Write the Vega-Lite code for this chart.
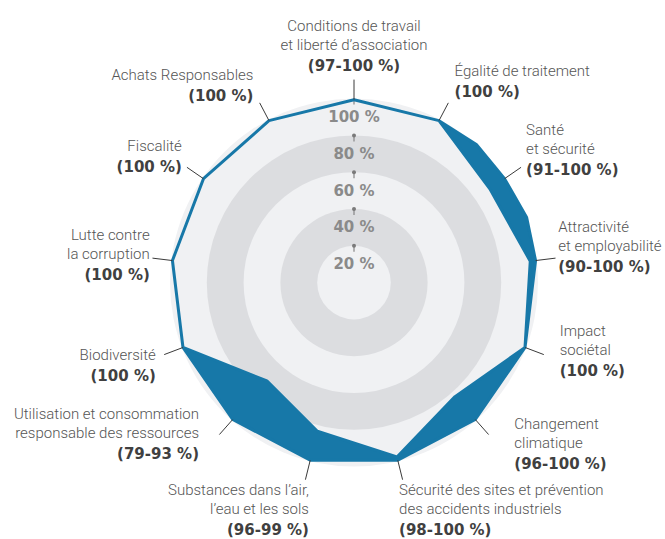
{
  "$schema": "https://vega.github.io/schema/vega-lite/v6.json",
  "width": 400,
  "height": 400,
  "autosize": {"type": "none"},
  "padding": {"left": 154, "top": 82.6, "right": 111, "bottom": 56.4},
  "background": "white",
  "config": {"view": {"stroke": null}},
  "datasets": {
    "rings": [
      {"r": 100, "band": "light"},
      {"r": 80, "band": "gray"},
      {"r": 60, "band": "light"},
      {"r": 40, "band": "gray"},
      {"r": 20, "band": "light"}
    ],
    "band": [
      {"seq": 0, "a": 0, "v": 99.4},
      {"seq": 1, "a": 1, "v": 99.4},
      {"seq": 2, "a": 1.5, "v": 100.3},
      {"seq": 3, "a": 2, "v": 99.4},
      {"seq": 4, "a": 2.5, "v": 100.3},
      {"seq": 5, "a": 3, "v": 99.4},
      {"seq": 6, "a": 4, "v": 99.4},
      {"seq": 7, "a": 5, "v": 99.4},
      {"seq": 8, "a": 6, "v": 99.4},
      {"seq": 9, "a": 7, "v": 99.4},
      {"seq": 10, "a": 8, "v": 99.4},
      {"seq": 11, "a": 9, "v": 99.4},
      {"seq": 12, "a": 10, "v": 99.4},
      {"seq": 13, "a": 11, "v": 99.4},
      {"seq": 14, "a": 12, "v": 99.4},
      {"seq": 15, "a": 13, "v": 99.4},
      {"seq": 16, "a": 13, "v": 99.4},
      {"seq": 17, "a": 12, "v": 99.4},
      {"seq": 18, "a": 11, "v": 99.4},
      {"seq": 19, "a": 10, "v": 99.4},
      {"seq": 20, "a": 9, "v": 99.4},
      {"seq": 21, "a": 8, "v": 71.4},
      {"seq": 22, "a": 7, "v": 83.2},
      {"seq": 23, "a": 6, "v": 97.6},
      {"seq": 24, "a": 5, "v": 82.8},
      {"seq": 25, "a": 4, "v": 99.4},
      {"seq": 26, "a": 3, "v": 96.5},
      {"seq": 27, "a": 2, "v": 89.7},
      {"seq": 28, "a": 1, "v": 99.4},
      {"seq": 29, "a": 0, "v": 99.4}
    ],
    "ticks": [
      {"v": 20, "t": "20 %", "m": 10},
      {"v": 40, "t": "40 %", "m": 30},
      {"v": 60, "t": "60 %", "m": 50},
      {"v": 80, "t": "80 %", "m": 70},
      {"v": 100, "t": "100 %", "m": 90}
    ],
    "labels": [
      {"i": 0, "lines": ["Conditions de travail", "et liberté d’association"], "pct": "(97-100 %)"},
      {"i": 1, "lines": ["Égalité de traitement"], "pct": "(100 %)"},
      {"i": 2, "lines": ["Santé", "et sécurité"], "pct": "(91-100 %)"},
      {"i": 3, "lines": ["Attractivité", "et employabilité"], "pct": "(90-100 %)"},
      {"i": 4, "lines": ["Impact", "sociétal"], "pct": "(100 %)"},
      {"i": 5, "lines": ["Changement", "climatique"], "pct": "(96-100 %)"},
      {"i": 6, "lines": ["Sécurité des sites et prévention", "des accidents industriels"], "pct": "(98-100 %)"},
      {"i": 7, "lines": ["Substances dans l’air,", "l’eau et les sols"], "pct": "(96-99 %)"},
      {"i": 8, "lines": ["Utilisation et consommation", "responsable des ressources"], "pct": "(79-93 %)"},
      {"i": 9, "lines": ["Biodiversité"], "pct": "(100 %)"},
      {"i": 10, "lines": ["Lutte contre", "la corruption"], "pct": "(100 %)"},
      {"i": 11, "lines": ["Fiscalité"], "pct": "(100 %)"},
      {"i": 12, "lines": ["Achats Responsables"], "pct": "(100 %)"}
    ]
  },
  "layer": [
    {
      "data": {"name": "rings"},
      "transform": [
        {"calculate": "pow(2*1.84*datum.r, 2)", "as": "sz"},
        {"calculate": "0", "as": "x"},
        {"calculate": "0", "as": "y"}
      ],
      "mark": {"type": "circle", "opacity": 1, "strokeWidth": 0},
      "encoding": {
        "x": {"field": "x", "type": "quantitative", "scale": {"domain": [-200, 200], "nice": false, "zero": false}, "axis": null},
        "y": {"field": "y", "type": "quantitative", "scale": {"domain": [-200, 200], "nice": false, "zero": false}, "axis": null},
        "size": {"field": "sz", "type": "quantitative", "scale": null},
        "color": {"field": "band", "type": "nominal", "scale": {"domain": ["light", "gray"], "range": ["#f0f1f3", "#dcdde0"]}, "legend": null}
      }
    },
    {
      "data": {"name": "ticks"},
      "transform": [
        {"calculate": "datum.v*1.84", "as": "y"},
        {"calculate": "datum.v*1.84 - 6", "as": "y2"},
        {"calculate": "0", "as": "x"}
      ],
      "mark": {"type": "rule", "color": "#858585", "strokeWidth": 1.2},
      "encoding": {
        "x": {"field": "x", "type": "quantitative", "scale": {"domain": [-200, 200], "nice": false, "zero": false}, "axis": null},
        "y": {"field": "y", "type": "quantitative", "scale": {"domain": [-200, 200], "nice": false, "zero": false}, "axis": null},
        "y2": {"field": "y2"}
      }
    },
    {
      "data": {"name": "band"},
      "transform": [
        {"calculate": "datum.a*2*PI/13", "as": "th"},
        {"calculate": "datum.v*1.84*sin(datum.th)", "as": "x"},
        {"calculate": "datum.v*1.84*cos(datum.th)", "as": "y"}
      ],
      "mark": {"type": "line", "interpolate": "linear-closed", "fill": "#1778a8", "stroke": "#1778a8", "strokeWidth": 3, "strokeJoin": "round"},
      "encoding": {
        "x": {"field": "x", "type": "quantitative", "scale": {"domain": [-200, 200], "nice": false, "zero": false}, "axis": null},
        "y": {"field": "y", "type": "quantitative", "scale": {"domain": [-200, 200], "nice": false, "zero": false}, "axis": null},
        "order": {"field": "seq", "type": "quantitative"}
      }
    },
    {
      "data": {"name": "ticks"},
      "transform": [
        {"filter": "datum.v < 100"},
        {"calculate": "datum.v*1.84", "as": "y"},
        {"calculate": "0", "as": "x"}
      ],
      "mark": {"type": "point", "shape": "circle", "filled": true, "size": 16, "color": "#7a7a7a", "opacity": 1},
      "encoding": {
        "x": {"field": "x", "type": "quantitative", "scale": {"domain": [-200, 200], "nice": false, "zero": false}, "axis": null},
        "y": {"field": "y", "type": "quantitative", "scale": {"domain": [-200, 200], "nice": false, "zero": false}, "axis": null}
      }
    },
    {
      "data": {"name": "ticks"},
      "transform": [
        {"calculate": "datum.m*1.84", "as": "y"},
        {"calculate": "0", "as": "x"}
      ],
      "mark": {"type": "text", "font": "DejaVu Sans", "fontWeight": "bold", "fontSize": 15, "color": "#8a8a8a", "align": "center", "baseline": "middle"},
      "encoding": {
        "x": {"field": "x", "type": "quantitative", "scale": {"domain": [-200, 200], "nice": false, "zero": false}, "axis": null},
        "y": {"field": "y", "type": "quantitative", "scale": {"domain": [-200, 200], "nice": false, "zero": false}, "axis": null},
        "text": {"field": "t"}
      }
    },
    {
      "data": {"name": "labels"},
      "transform": [
        {"calculate": "datum.i*2*PI/13", "as": "th"},
        {"calculate": "sin(datum.th)", "as": "s"},
        {"calculate": "cos(datum.th)", "as": "c"},
        {"calculate": "183*datum.s", "as": "x"},
        {"calculate": "183*datum.c", "as": "y"},
        {"calculate": "203*datum.s", "as": "x2"},
        {"calculate": "203*datum.c", "as": "y2"}
      ],
      "mark": {"type": "rule", "color": "#3a3a3a", "strokeWidth": 1},
      "encoding": {
        "x": {"field": "x", "type": "quantitative", "scale": {"domain": [-200, 200], "nice": false, "zero": false}, "axis": null},
        "y": {"field": "y", "type": "quantitative", "scale": {"domain": [-200, 200], "nice": false, "zero": false}, "axis": null},
        "x2": {"field": "x2"},
        "y2": {"field": "y2"}
      }
    },
    {
      "data": {"name": "labels"},
      "transform": [
        {"calculate": "datum.i*2*PI/13", "as": "th"},
        {"calculate": "sin(datum.th)", "as": "s"},
        {"calculate": "cos(datum.th)", "as": "c"},
        {"calculate": "length(datum.lines)", "as": "n"},
        {"calculate": "abs(datum.s) < 0.3 ? (datum.c > 0 ? 'top' : 'bottom') : 'side'", "as": "side"},
        {"calculate": "datum.s > 0.05 ? 'left' : (datum.s < -0.05 ? 'right' : 'center')", "as": "al"},
        {"calculate": "datum.side == 'side' ? (datum.c > 0 ? 6*datum.c : -29*datum.c + 4*datum.s) : -4", "as": "gap"},
        {"calculate": "205*datum.s + (datum.s > 0.05 ? datum.gap : (datum.s < -0.05 ? -datum.gap : 0))", "as": "tx"},
        {"calculate": "19*datum.n + 21", "as": "H"},
        {"calculate": "datum.c > 0.12 ? -7 - 14*(datum.c - 0.12) - 4*datum.s : (datum.c >= 0 ? -7 - 4*datum.s : min(3, -7 + 21*(0.12 - datum.c)) - 40*datum.s*(datum.c + 0.55))", "as": "off"},
        {"calculate": "datum.side == 'top' ? 205*datum.c + 2 + datum.H : (datum.side == 'bottom' ? 205*datum.c + 1 : 205*datum.c - datum.off + datum.H/2)", "as": "T"},
        {"calculate": "datum.T - 2.5", "as": "ty"},
        {"calculate": "datum.T - 19*datum.n - 11.5", "as": "by"}
      ],
      "layer": [
        {
          "transform": [{"filter": "datum.al == 'left'"}],
          "mark": {"type": "text", "font": "Roboto", "fontWeight": 300, "fontSize": 15, "color": "#555555", "align": "left", "baseline": "top", "lineHeight": 19},
          "encoding": {
            "x": {"field": "tx", "type": "quantitative", "scale": {"domain": [-200, 200], "nice": false, "zero": false}, "axis": null},
            "y": {"field": "ty", "type": "quantitative", "scale": {"domain": [-200, 200], "nice": false, "zero": false}, "axis": null},
            "text": {"field": "lines"}
          }
        },
        {
          "transform": [{"filter": "datum.al == 'right'"}],
          "mark": {"type": "text", "font": "Roboto", "fontWeight": 300, "fontSize": 15, "color": "#555555", "align": "right", "baseline": "top", "lineHeight": 19},
          "encoding": {
            "x": {"field": "tx", "type": "quantitative", "scale": {"domain": [-200, 200], "nice": false, "zero": false}, "axis": null},
            "y": {"field": "ty", "type": "quantitative", "scale": {"domain": [-200, 200], "nice": false, "zero": false}, "axis": null},
            "text": {"field": "lines"}
          }
        },
        {
          "transform": [{"filter": "datum.al == 'center'"}],
          "mark": {"type": "text", "font": "Roboto", "fontWeight": 300, "fontSize": 15, "color": "#555555", "align": "center", "baseline": "top", "lineHeight": 19},
          "encoding": {
            "x": {"field": "tx", "type": "quantitative", "scale": {"domain": [-200, 200], "nice": false, "zero": false}, "axis": null},
            "y": {"field": "ty", "type": "quantitative", "scale": {"domain": [-200, 200], "nice": false, "zero": false}, "axis": null},
            "text": {"field": "lines"}
          }
        },
        {
          "transform": [{"filter": "datum.al == 'left'"}],
          "mark": {"type": "text", "font": "DejaVu Sans", "fontWeight": "bold", "fontSize": 15, "color": "#404040", "align": "left", "baseline": "middle"},
          "encoding": {
            "x": {"field": "tx", "type": "quantitative", "scale": {"domain": [-200, 200], "nice": false, "zero": false}, "axis": null},
            "y": {"field": "by", "type": "quantitative", "scale": {"domain": [-200, 200], "nice": false, "zero": false}, "axis": null},
            "text": {"field": "pct"}
          }
        },
        {
          "transform": [{"filter": "datum.al == 'right'"}],
          "mark": {"type": "text", "font": "DejaVu Sans", "fontWeight": "bold", "fontSize": 15, "color": "#404040", "align": "right", "baseline": "middle"},
          "encoding": {
            "x": {"field": "tx", "type": "quantitative", "scale": {"domain": [-200, 200], "nice": false, "zero": false}, "axis": null},
            "y": {"field": "by", "type": "quantitative", "scale": {"domain": [-200, 200], "nice": false, "zero": false}, "axis": null},
            "text": {"field": "pct"}
          }
        },
        {
          "transform": [{"filter": "datum.al == 'center'"}],
          "mark": {"type": "text", "font": "DejaVu Sans", "fontWeight": "bold", "fontSize": 15, "color": "#404040", "align": "center", "baseline": "middle"},
          "encoding": {
            "x": {"field": "tx", "type": "quantitative", "scale": {"domain": [-200, 200], "nice": false, "zero": false}, "axis": null},
            "y": {"field": "by", "type": "quantitative", "scale": {"domain": [-200, 200], "nice": false, "zero": false}, "axis": null},
            "text": {"field": "pct"}
          }
        }
      ]
    }
  ]
}
